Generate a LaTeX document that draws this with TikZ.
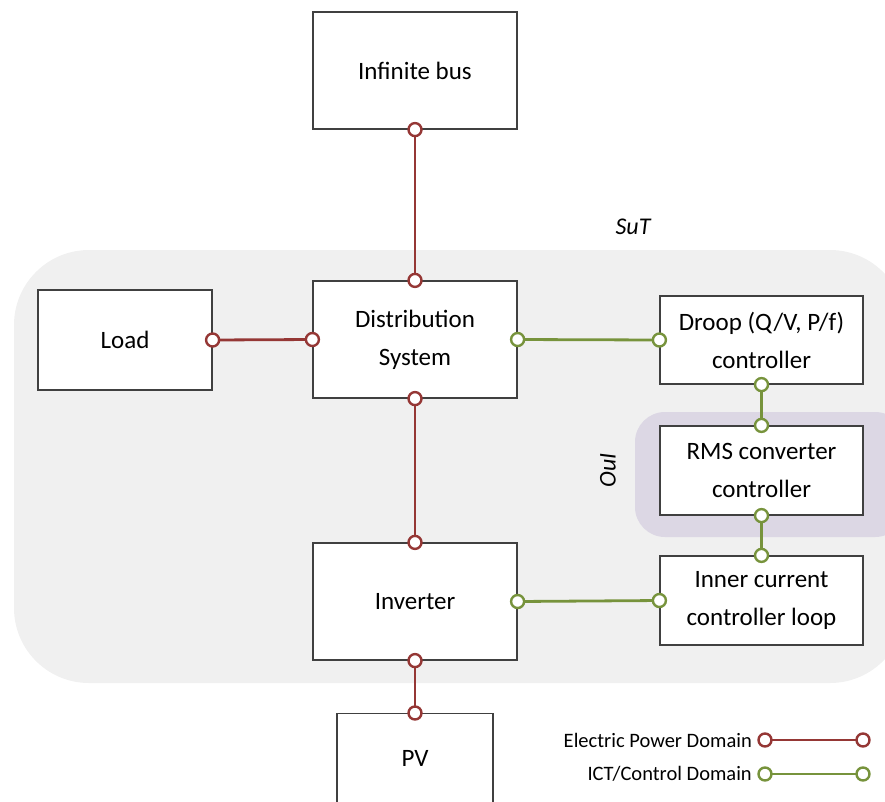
\documentclass[tikz,border=0pt]{standalone}
\usepackage{fontspec}
\setmainfont{Carlito}
\definecolor{epd}{HTML}{953735}
\definecolor{ict}{HTML}{77933C}
\definecolor{sutfill}{HTML}{F0F0F0}
\definecolor{ouifill}{HTML}{DCD7E4}
\definecolor{boxline}{HTML}{404040}
\begin{document}
\begin{tikzpicture}[x=1pt,y=-1pt,
  blk/.style={draw=boxline,line width=1.2pt,fill=white,align=center,inner sep=0pt,font=\fontsize{25}{38}\selectfont},
  port/.style={circle,draw=#1,line width=2.4pt,fill=white,inner sep=0pt,minimum size=13pt},
  epline/.style={draw=epd,line width=2.8pt},
  ictline/.style={draw=ict,line width=2.8pt},
  lbl/.style={font=\fontsize{20.5}{24}\selectfont,inner sep=0pt}
]
\useasboundingbox (0,0) rectangle (885,801);
\begin{scope}
\clip (0,0) rectangle (885,801);
\fill[sutfill] (14,250) [rounded corners=75pt] rectangle (905,683);
\fill[ouifill] (635,412) [rounded corners=30pt] rectangle (905,537);
\end{scope}
\node[font=\itshape\fontsize{24}{28}\selectfont] (sut) at (633,227) {SuT};
\node[font=\itshape\fontsize{24}{28}\selectfont,rotate=90] (oui) at (608,470) {OuI};
% blocks
\node[blk,minimum width=204pt,minimum height=117pt] (bus) at (415,70.5) {Infinite bus};
\node[blk,minimum width=174pt,minimum height=100pt] (load) at (125,340) {Load};
\node[blk,minimum width=204pt,minimum height=117pt] (dist) at (415,339.5) {Distribution\\System};
\node[blk,minimum width=203pt,minimum height=88pt] (droop) at (761.5,340) {Droop (Q/V, P/f)\\controller};
\node[blk,minimum width=203pt,minimum height=89pt] (rms) at (761.5,470.5) {RMS converter\\controller};
\node[blk,minimum width=203pt,minimum height=89pt] (inner) at (761.5,600.5) {Inner current\\controller loop};
\node[blk,minimum width=204pt,minimum height=117pt] (inv) at (415,601.5) {Inverter};
\begin{scope}
\clip (0,0) rectangle (885,801);
\node[blk,minimum width=156pt,minimum height=120pt,anchor=north,text depth=0pt] (pv) at (415,713) {};
\end{scope}
\node[font=\fontsize{25}{30}\selectfont] (pvt) at (415,758) {PV};
% electric connectors
\draw[epline] (bus.south) -- (dist.north);
\draw[epline] (load.east) -- (dist.west);
\draw[epline] (dist.south) -- (inv.north);
\draw[epline] (inv.south) -- (pv.north);
% ict connectors
\draw[ictline] (dist.east) -- (droop.west);
\draw[ictline] (droop.south) -- (rms.north);
\draw[ictline] (rms.south) -- (inner.north);
\draw[ictline] (inv.east) -- (inner.west);
% ports
\foreach \p in {bus.south,dist.north,load.east,dist.west,dist.south,inv.north,inv.south,pv.north}
  \node[port=epd] at (\p) {};
\foreach \p in {dist.east,droop.west,droop.south,rms.north,rms.south,inner.north,inv.east,inner.west}
  \node[port=ict] at (\p) {};
% legend
\coordinate (e1) at (765,740);
\coordinate (e2) at (863,740);
\coordinate (c1) at (765,774);
\coordinate (c2) at (863,774);
\draw[epline] (e1) -- (e2);
\draw[ictline] (c1) -- (c2);
\node[port=epd] at (e1) {};
\node[port=epd] at (e2) {};
\node[port=ict] at (c1) {};
\node[port=ict] at (c2) {};
\node[lbl,anchor=east] (ltxt1) at (752,740) {Electric Power Domain};
\node[lbl,anchor=east] (ltxt2) at (752,774) {ICT/Control Domain};
\end{tikzpicture}
\end{document}
